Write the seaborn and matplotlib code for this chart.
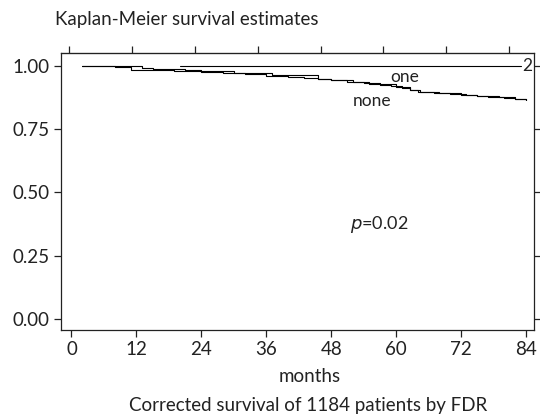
import matplotlib
matplotlib.use("Agg")
import matplotlib.pyplot as plt
import seaborn as sns
import pandas as pd

# ---- data ----
none_t = [2, 8, 11, 19, 24, 28, 32, 36, 40, 43, 45.5, 48, 51, 54, 57, 59, 61, 62.5, 64, 67, 70, 73, 75, 77, 80, 82, 84]
none_s = [1.000, 0.995, 0.983, 0.978, 0.975, 0.972, 0.968, 0.962, 0.957, 0.953, 0.948, 0.944, 0.938, 0.931,
          0.926, 0.920, 0.912, 0.905, 0.898, 0.894, 0.889, 0.886, 0.882, 0.879, 0.875, 0.870, 0.866]
one_t = [2, 13, 15, 21, 24, 30, 37, 45.5, 48, 52, 55, 58, 60, 62.5, 64.5, 68, 72, 75, 79, 82, 84]
one_s = [1.000, 0.993, 0.989, 0.985, 0.979, 0.973, 0.966, 0.950, 0.946, 0.936, 0.930, 0.927, 0.918, 0.905,
         0.895, 0.892, 0.887, 0.880, 0.877, 0.869, 0.866]
two_t = [20, 83]
two_s = [1.0, 1.0]

x_ticks = [0, 12, 24, 36, 48, 60, 72, 84]
y_ticks = [0.00, 0.25, 0.50, 0.75, 1.00]
y_labels = ["0.00", "0.25", "0.50", "0.75", "1.00"]
top_ticks = [-0.46, 11.2, 22.8, 34.4, 46.1, 57.6, 69.2, 80.9]

sns.set_style("ticks")
plt.rcParams['font.family'] = ['Lato', 'DejaVu Sans']

fig = plt.figure(figsize=(5.4, 4.16), dpi=100)
ax = fig.add_axes([60.5/540, 1-330/416, (534-60.5)/540, (330-53)/416])

for t, s, name in [(none_t, none_s, "none"), (one_t, one_s, "one"), (two_t, two_s, "2")]:
    df = pd.DataFrame({"months": t, "surv": s})
    sns.lineplot(data=df, x="months", y="surv", drawstyle="steps-post", color="black",
                 linewidth=0.8, ax=ax)

ax.set_xlim(-2.03, 85.49)
ax.set_ylim(-0.0435, 1.051)
ax.set_xticks(x_ticks)
ax.set_xticklabels([str(v) for v in x_ticks])
ax.set_yticks(y_ticks)
ax.set_yticklabels(y_labels)
ax.tick_params(axis='both', direction='out', length=5, width=0.9, labelsize=13.5, colors='#222222', pad=3)
ax.tick_params(axis='y', right=True)
for sp in ax.spines.values():
    sp.set_visible(True)
    sp.set_linewidth(0.9)
    sp.set_color('#222222')

sec = ax.secondary_xaxis('top')
sec.set_xticks(top_ticks)
sec.set_xticklabels([])
sec.tick_params(direction='out', length=5, width=0.9, colors='#222222')

ax.set_xlabel("")
ax.set_ylabel("")

ax.text(61.5, 0.958, "one", fontsize=12.5, ha='center', va='center', color='#222222')
ax.text(55.5, 0.863, "none", fontsize=12.5, ha='center', va='center', color='#222222')
ax.text(83.4, 1.0, "2", fontsize=12.5, ha='left', va='center', color='#222222')
ax.text(56.8, 0.372, "$\\it{p}$=0.02", fontsize=13, ha='center', va='center', color='#222222')

fig.text(55/540, 1-20/416, "Kaplan-Meier survival estimates", fontsize=13.5, ha='left', va='center', color='#222222')
fig.text(310/540, 1-376/416, "months", fontsize=13.5, ha='center', va='center', color='#222222')
fig.text(308/540, 1-405/416, "Corrected survival of 1184 patients by FDR", fontsize=13.5, ha='center', va='center', color='#222222')

fig.savefig("out.png", dpi=100, facecolor='white')
